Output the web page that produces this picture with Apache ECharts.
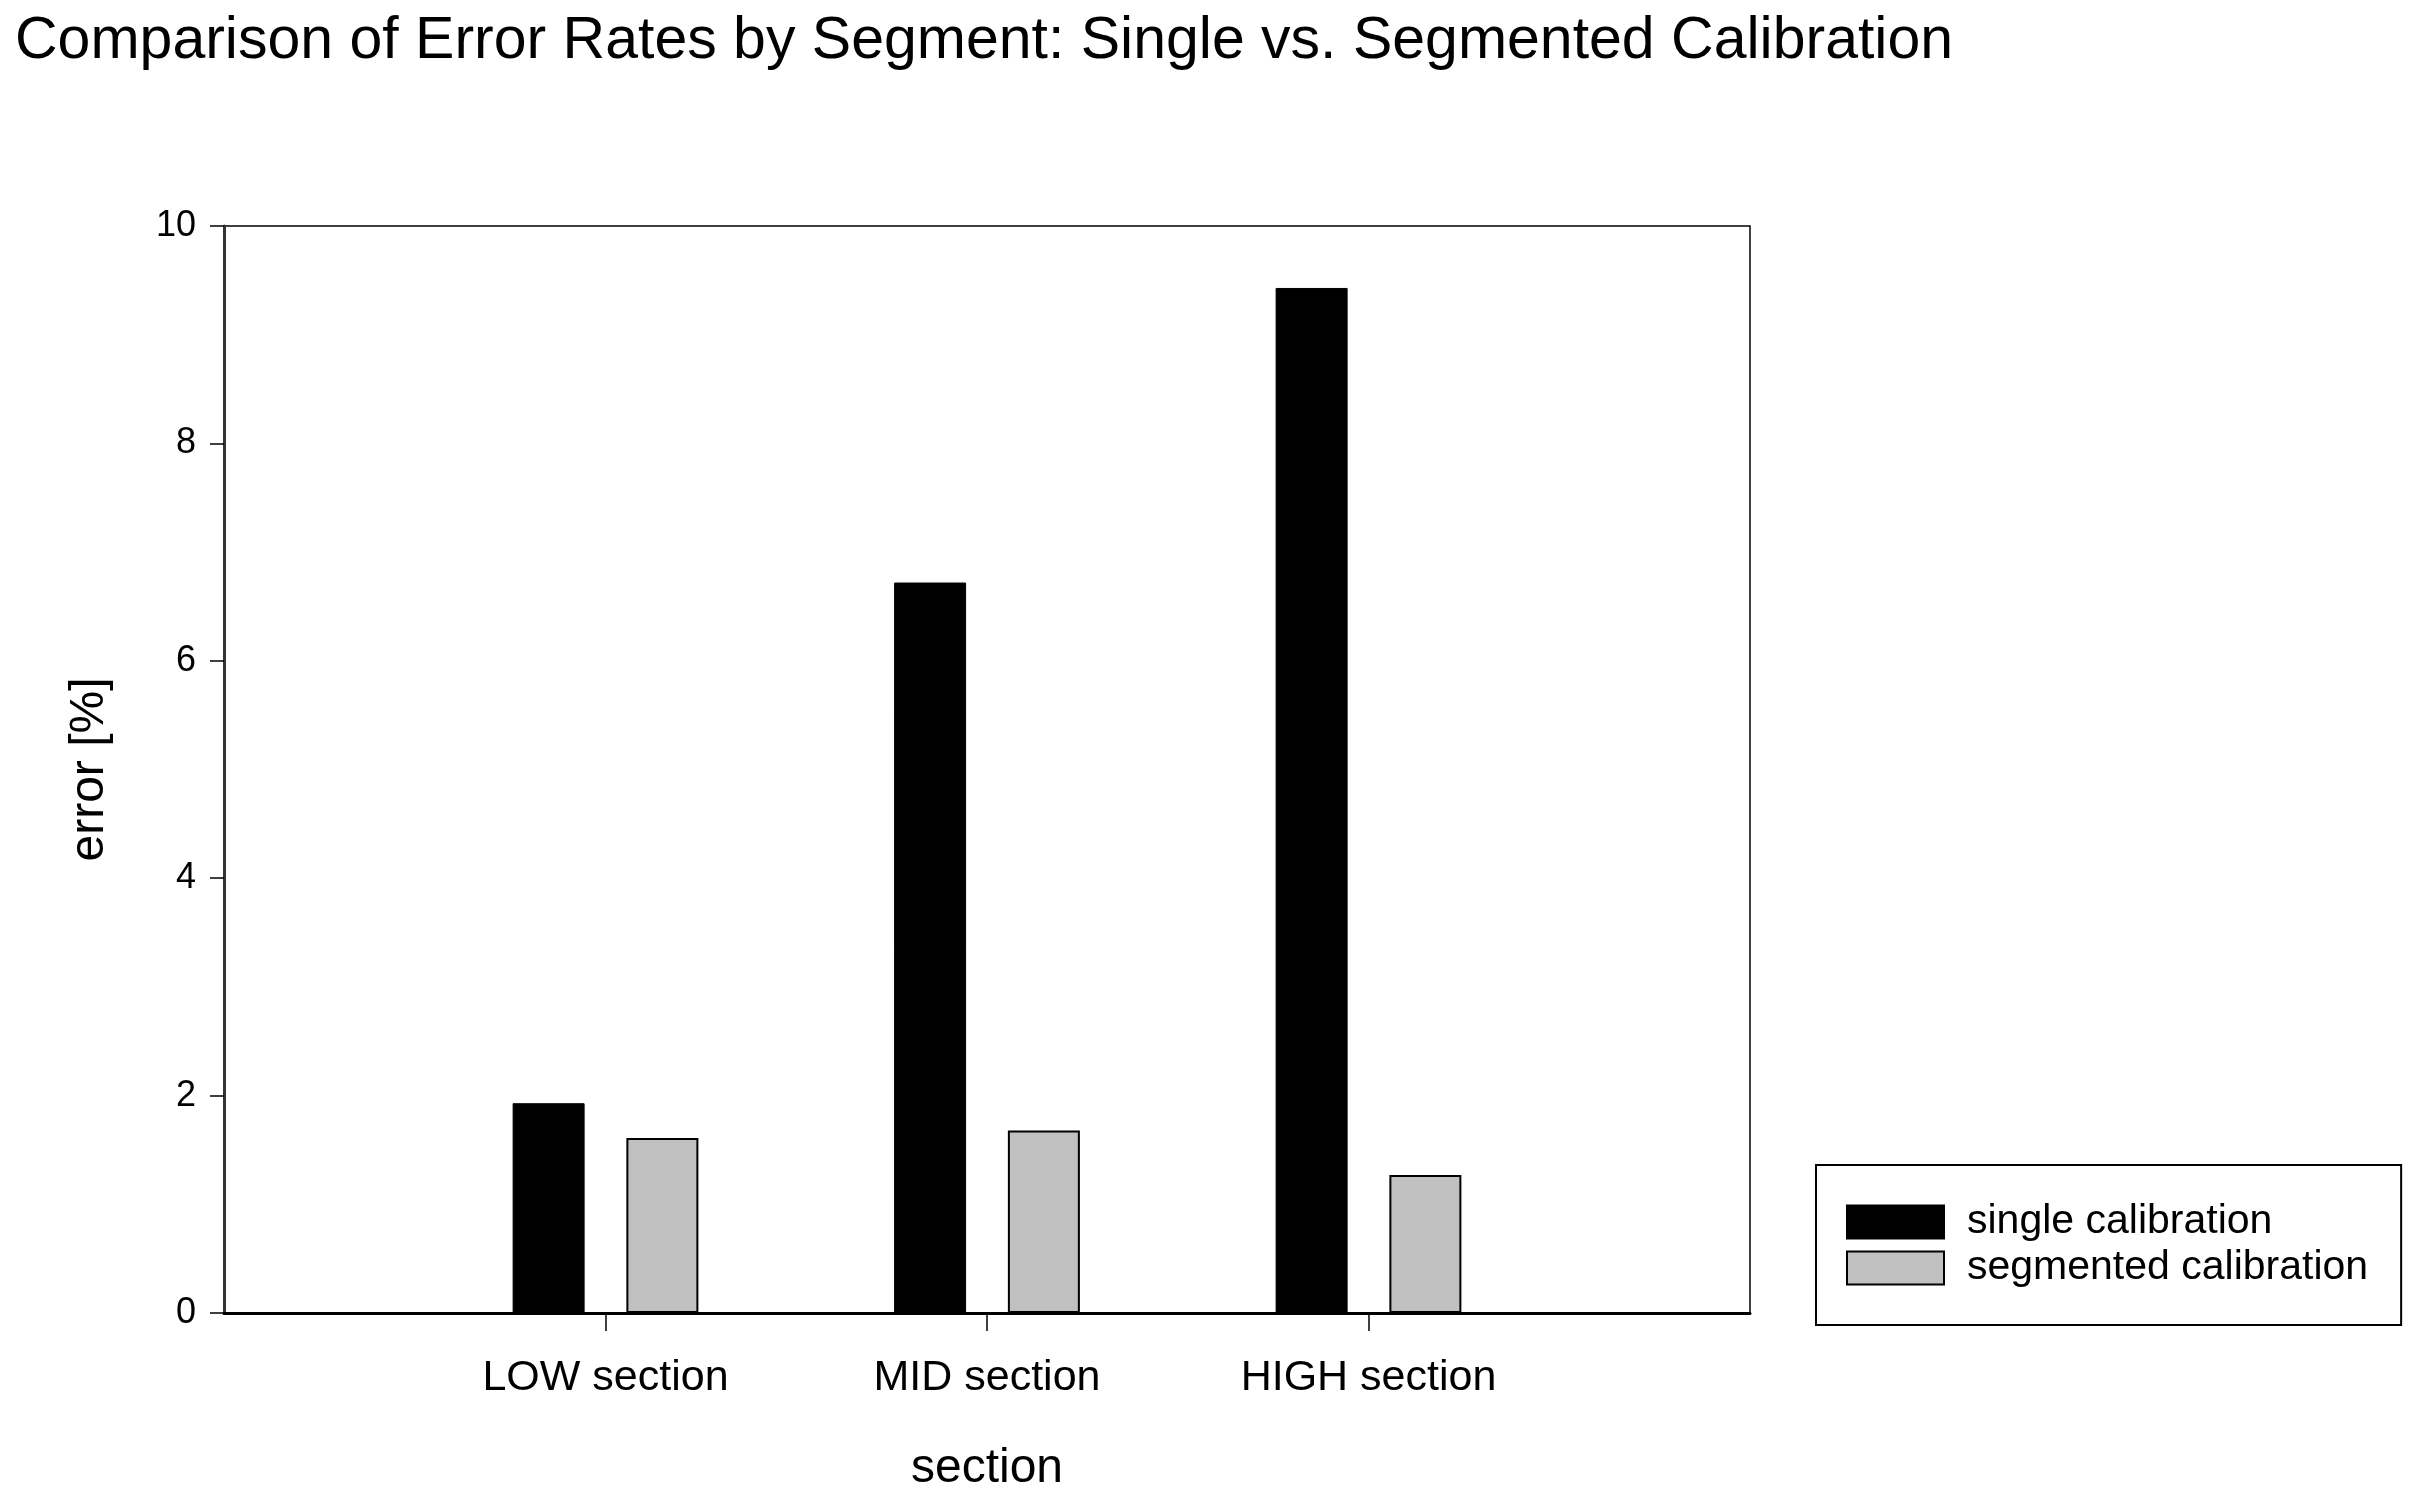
<!DOCTYPE html>
<html>
<head>
<meta charset="utf-8">
<script src="https://cdn.jsdelivr.net/npm/echarts@6/dist/echarts.min.js"></script>
<style>html,body{margin:0;padding:0;background:#fff;}#c{width:2420px;height:1498px;}</style>
</head>
<body>
<div id="c"></div>
<script>
var categories = ['LOW section', 'MID section', 'HIGH section'];
var singleCalibration = [1.93, 6.72, 9.43];
var segmentedCalibration = [1.61, 1.68, 1.27];
var yTicks = [0, 2, 4, 6, 8, 10];

// the x axis spans one empty slot on each side of the three sections
var axisCats = [''].concat(categories, ['']);
var pad = function (arr) { return [null].concat(arr, [null]); };

var FONT = 'Liberation Sans, Arial, sans-serif';
var chart = echarts.init(document.getElementById('c'), null, {renderer: 'canvas'});
chart.setOption({
  animation: false,
  backgroundColor: '#fff',
  textStyle: {fontFamily: FONT, color: '#000'},
  title: {
    text: 'Comparison of Error Rates by Segment: Single vs. Segmented Calibration',
    left: 10, top: 7,
    textStyle: {fontFamily: FONT, fontSize: 59, fontWeight: 'normal', color: '#000'}
  },
  grid: {
    left: 224, top: 226, width: 1526, height: 1097,
    show: true, borderColor: '#000', borderWidth: 1.5, backgroundColor: 'transparent'
  },
  legend: {
    data: ['single calibration', 'segmented calibration'],
    orient: 'vertical',
    left: 1816, top: 1165,
    icon: 'rect',
    itemWidth: 97, itemHeight: 33, itemGap: 0,
    padding: [34, 33, 34, 30],
    borderColor: '#000', borderWidth: 2,
    selectedMode: false,
    textStyle: {fontFamily: FONT, fontSize: 41, lineHeight: 46, color: '#000', padding: [0, 0, 0, 18]}
  },
  xAxis: {
    type: 'category',
    data: axisCats,
    boundaryGap: false,
    name: 'section',
    nameLocation: 'middle',
    nameGap: 132,
    nameTextStyle: {fontFamily: FONT, fontSize: 48, color: '#000'},
    axisLine: {show: true, lineStyle: {color: '#000', width: 3}},
    axisTick: {
      show: true, length: 18, lineStyle: {color: '#000', width: 1.5},
      interval: function (i) { return i > 0 && i < axisCats.length - 1; }
    },
    axisLabel: {interval: 0, margin: 44, fontFamily: FONT, fontSize: 43, color: '#000'},
    splitLine: {show: false}
  },
  yAxis: {
    type: 'value',
    min: yTicks[0], max: yTicks[yTicks.length - 1], interval: yTicks[1] - yTicks[0],
    name: 'error [%]',
    nameLocation: 'middle',
    nameGap: 110,
    nameTextStyle: {fontFamily: FONT, fontSize: 48, color: '#000'},
    axisLine: {show: true, lineStyle: {color: '#333', width: 3}},
    axisTick: {show: true, length: 14, lineStyle: {color: '#000', width: 1.5}},
    axisLabel: {margin: 28, fontFamily: FONT, fontSize: 36, color: '#000'},
    splitLine: {show: false}
  },
  series: [
    {
      name: 'single calibration', type: 'bar',
      data: pad(singleCalibration),
      barWidth: 72, barGap: '58%',
      itemStyle: {color: '#000', borderColor: '#000', borderWidth: 1}
    },
    {
      name: 'segmented calibration', type: 'bar',
      data: pad(segmentedCalibration),
      barWidth: 72, barGap: '58%',
      itemStyle: {color: '#c0c0c0', borderColor: '#000', borderWidth: 2}
    }
  ]
});
</script>
</body>
</html>
